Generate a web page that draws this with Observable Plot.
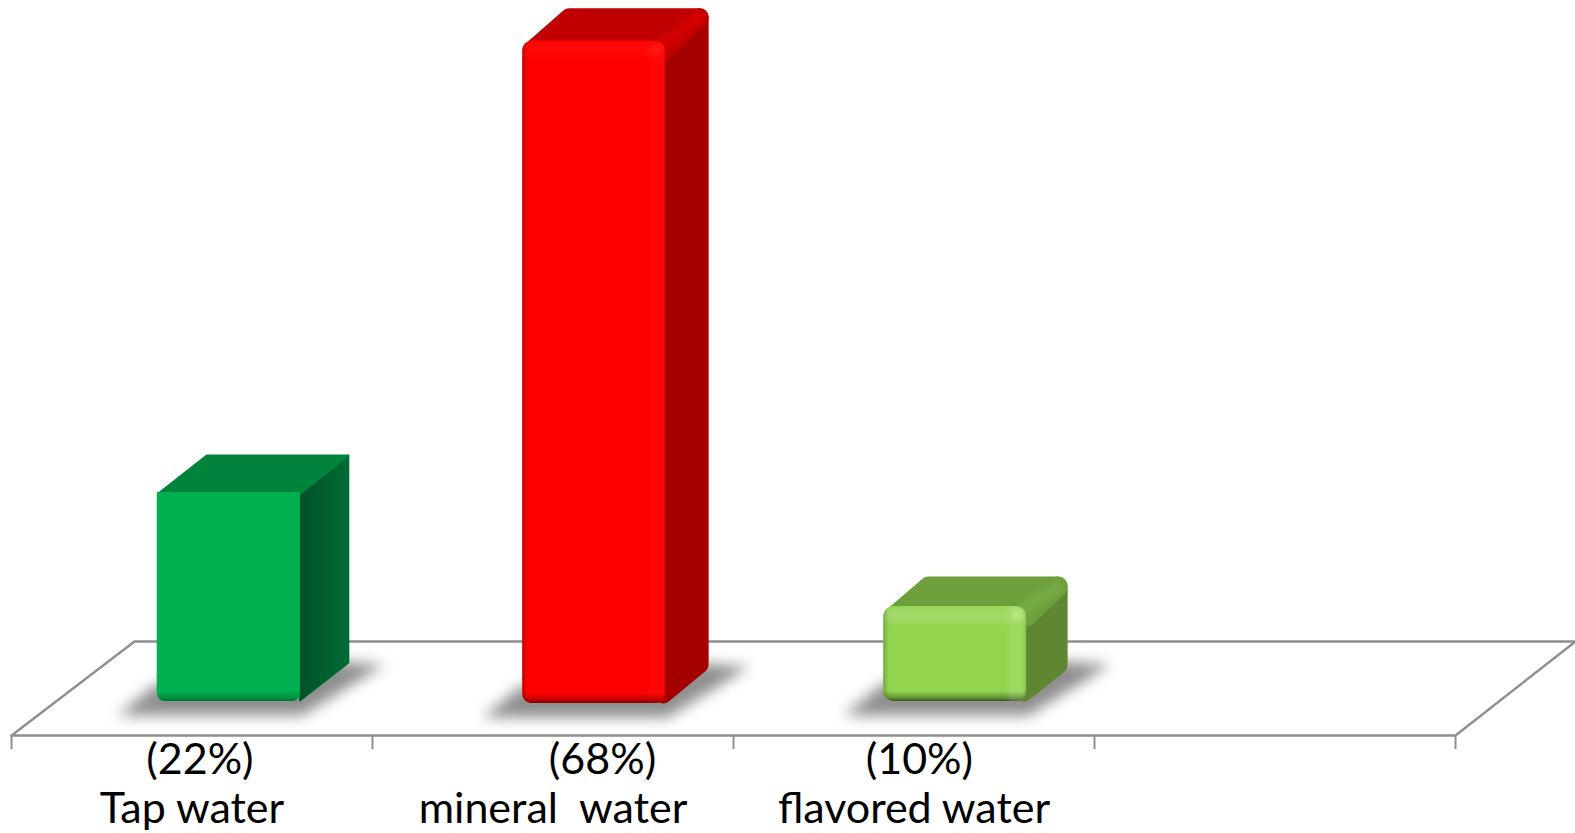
<!DOCTYPE html>
<html>
<head>
<meta charset="utf-8">
<script src="https://cdn.jsdelivr.net/npm/d3@7"></script>
<script src="https://cdn.jsdelivr.net/npm/@observablehq/plot@0.6"></script>
<style>
html,body{margin:0;padding:0;background:#fff;overflow:hidden}
svg{display:block}
</style>
</head>
<body>
<script>
// ---- data ----
const categories = ["Tap water", "mineral  water", "flavored water", ""];
const shareLabels = ["(22%)", "(68%)", "(10%)"];
const barValues = [22, 69.5, 10];

// ---- layout (category units on x, percent units on y) ----
const W = 1575, H = 833;
const pxPerCat = 361, pxPerPct = 9.5, originX = 11, originY = 701;
const px = v => v / pxPerCat, py = v => v / pxPerPct;
const floorFront = py(-34), floorBack = py(60);
const barOffset = [0.404, 0.416, 0.416];
const barWidth = 0.396;
const depthX = [49, 43, 41], depthY = [38, 33, 30];
const radius = [1, 9, 10];
const baseDrop = [0, 2, 0];
const shareOffset = [0.522, 0.637, 0.515];

const palette = [
  {front: "#00b050", topFill: "#00843c", side: "#006c34", ridge: "#00843c", dark: 0.35, glow: 0},
  {front: "#ff0000", topFill: "#c00000", side: "#a50000", ridge: "#d20000", dark: 0.5, glow: 0.03},
  {front: "#92d650", topFill: "#6f9f3c", side: "#5f8633", ridge: "#76aa44", dark: 0.6, glow: 0.13}
];

const bars = barValues.map((v, i) => ({
  i, x0: i + barOffset[i], x1: i + barOffset[i] + barWidth,
  base: py(-baseDrop[i]), top: v,
  dx: px(depthX[i]), dy: py(depthY[i]), r: radius[i], ...palette[i]
}));

const poly = pts => pts.concat([pts[0]]).map(([x, y]) => ({x, y}));

function defsMark() {
  const defs = d3.create("svg:defs");
  const grad = (id, horizontal, stops) => {
    const g = defs.append("linearGradient").attr("id", id)
      .attr("x1", 0).attr("y1", 0)
      .attr("x2", horizontal ? 1 : 0).attr("y2", horizontal ? 0 : 1);
    stops.forEach(([o, c, a]) => g.append("stop").attr("offset", o)
      .attr("stop-color", c).attr("stop-opacity", a));
  };
  bars.forEach(b => {
    const h = (b.top - b.base) * pxPerPct, w = barWidth * pxPerCat;
    const soft = b.r > 2;
    grad(`v${b.i}`, false, [
      [0, "#fff", 0],
      [5 / h, "#fff", b.glow],
      [12 / h, "#fff", b.glow],
      [20 / h, "#fff", 0],
      [1 - 10 / h, "#000", 0],
      [1 - 3 / h, "#000", b.dark * 0.55],
      [1, "#000", b.dark]
    ]);
    grad(`h${b.i}`, true, [
      [0, "#000", soft ? 0.2 : 0],
      [6 / w, "#000", 0],
      [1 - 20 / w, "#fff", 0],
      [1 - 14 / w, "#fff", b.glow * 0.8],
      [1 - 4 / w, "#fff", b.glow * 0.6],
      [1, "#000", soft ? 0.1 : 0]
    ]);
    grad(`s${b.i}`, true, [
      [0, "#000", soft ? 0 : 0.25],
      [1, "#000", 0]
    ]);
  });
  return defs.node();
}

function barMarks(b) {
  const {x0, x1, top, base, dx, dy, r} = b;
  const rx = px(r), ry = py(r);
  const shadow = poly([
    [x0 - px(40), base - py(14)], [x1 + px(2), base - py(14)],
    [x1 + px(84), base + py(37)], [x1 + px(34), base + py(40)], [x0, base + py(18)]
  ]);
  const side = poly([
    [x1 - rx * 0.3, top - ry], [x1 + dx - rx, top + dy - ry],
    [x1 + dx - rx, base + dy + ry * 0.7], [x1 - rx * 0.3, base + ry]
  ]);
  const topFace = poly([
    [x0 + rx, top - ry], [x1, top - ry],
    [x1 + dx - rx, top + dy - ry], [x0 + dx + rx * 0.4, top + dy - ry]
  ]);
  const ridge = [{x: x1 - rx * 0.2, y: top - ry * 0.2}, {x: x1 + dx - rx * 1.1, y: top + dy - ry * 1.1}];
  const row = [b];
  const rect = (fill) => Plot.rect(row, {
    x1: d => d.x0, x2: d => d.x1, y1: d => d.base, y2: d => d.top,
    fill, rx: r, ry: r
  });
  const marks = [
    Plot.line(shadow, {x: "x", y: "y", fill: "#8e8e8e", stroke: "none", imageFilter: "blur(7px)"}),
    Plot.line(side, {x: "x", y: "y", fill: b.side, stroke: b.side, strokeWidth: 2 * r}),
    Plot.line(side, {x: "x", y: "y", fill: `url(#s${b.i})`, stroke: "none"}),
    Plot.line(topFace, {x: "x", y: "y", fill: b.topFill, stroke: b.topFill, strokeWidth: 2 * r})
  ];
  if (r > 2) marks.push(Plot.line(ridge, {x: "x", y: "y", stroke: b.ridge, strokeWidth: 13, strokeLinecap: "round", imageFilter: "blur(2.5px)"}));
  if (r <= 2) {
    // square upper corners on the plain bar, rounded feet only
    marks.push(Plot.rect(row, {x1: d => d.x0, x2: d => d.x1, y1: d => d.base, y2: d => d.top, fill: b.front, rx: 8, ry: 8}));
    marks.push(Plot.rect(row, {x1: d => d.x0, x2: d => d.x1, y1: d => d.base + py(10), y2: d => d.top, fill: b.front}));
    marks.push(Plot.rect(row, {x1: d => d.x0, x2: d => d.x1, y1: d => d.base, y2: d => d.top, fill: `url(#v${b.i})`, rx: 8, ry: 8}));
  } else {
    marks.push(rect(b.front), rect(`url(#v${b.i})`), rect(`url(#h${b.i})`));
    marks.push(Plot.dot(row, {x: d => d.x1 - px(r * 0.9), y: d => d.top - py(r * 0.9), r: 5, fill: "#ffff88", fillOpacity: b.glow * 2, stroke: "none", imageFilter: "blur(2px)"}));
  }
  return marks;
}

const floor = [
  {x: 0, y: floorFront}, {x: px(123), y: floorBack},
  {x: px(W - originX), y: floorBack}, {x: 4, y: floorFront}, {x: 0, y: floorFront}
];
const ticks = d3.range(0, 5);
const labelFont = {fontFamily: "Lato", fontSize: 43, fill: "#000", lineAnchor: "middle", stroke: "none"};

const chart = Plot.plot({
  width: W, height: H,
  marginLeft: 0, marginRight: 0, marginTop: 0, marginBottom: 0,
  style: {background: "#fff", overflow: "hidden"},
  x: {axis: null, domain: [-originX / pxPerCat, (W - originX) / pxPerCat], range: [0, W]},
  y: {axis: null, domain: [(originY - H) / pxPerPct, originY / pxPerPct], range: [H, 0]},
  marks: [
    defsMark,
    Plot.line(floor, {x: "x", y: "y", stroke: "#8f8f8f", strokeWidth: 2.4, curve: "linear"}),
    Plot.ruleX(ticks, {x: d => d, y1: floorFront, y2: floorFront - py(14), stroke: "#8f8f8f", strokeWidth: 2}),
    ...bars.flatMap(barMarks),
    Plot.text(shareLabels, {x: (d, i) => i + shareOffset[i], y: py(-59), text: d => d, ...labelFont}),
    Plot.text(categories.slice(0, 3), {x: (d, i) => i + 0.5, y: py(-108), text: d => d, ...labelFont})
  ]
});
document.body.appendChild(chart);
</script>
</body>
</html>
